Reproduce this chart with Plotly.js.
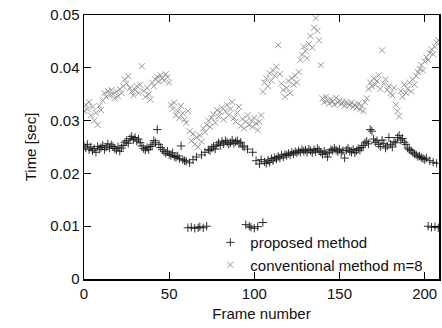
<!DOCTYPE html>
<html>
<head>
<meta charset="utf-8">
<script src="https://cdn.plot.ly/plotly-3.0.1.min.js"></script>
<style>html,body{margin:0;padding:0;background:#fff;}#chart{width:442px;height:328px;}</style>
</head>
<body>
<div id="chart"></div>
<script>
// Frame numbers 0..208
const frames = Array.from({length: 209}, (_, i) => i);

const proposed = [
0.0252,0.0248,0.0255,0.0245,0.0250,0.0243,0.0247,0.0240,0.0251,0.0246,
0.0249,0.0253,0.0245,0.0250,0.0256,0.0248,0.0254,0.0251,0.0247,0.0244,
0.0250,0.0242,0.0248,0.0253,0.0259,0.0262,0.0257,0.0266,0.0270,0.0264,
0.0268,0.0261,0.0265,0.0258,0.0252,0.0247,0.0244,0.0249,0.0245,0.0251,
0.0254,0.0262,0.0258,0.0283,0.0255,0.0249,0.0245,0.0241,0.0238,0.0242,
0.0236,0.0234,0.0239,0.0232,0.0230,0.0233,0.0228,0.0252,0.0226,0.0224,
0.0223,0.0097,0.0220,0.0098,0.0226,0.0096,0.0231,0.0097,0.0099,0.0235,
0.0097,0.0240,0.0100,0.0245,0.0243,0.0248,0.0251,0.0246,0.0254,0.0258,
0.0253,0.0261,0.0256,0.0262,0.0259,0.0255,0.0258,0.0263,0.0257,0.0260,
0.0262,0.0256,0.0259,0.0252,0.0250,0.0103,0.0246,0.0100,0.0098,0.0240,
0.0096,0.0224,0.0099,0.0218,0.0226,0.0107,0.0222,0.0219,0.0225,0.0221,
0.0228,0.0224,0.0230,0.0227,0.0232,0.0229,0.0235,0.0231,0.0236,0.0234,
0.0238,0.0235,0.0240,0.0237,0.0241,0.0239,0.0243,0.0240,0.0245,0.0242,
0.0244,0.0240,0.0246,0.0243,0.0239,0.0245,0.0241,0.0247,0.0244,0.0240,
0.0236,0.0242,0.0238,0.0231,0.0240,0.0245,0.0243,0.0248,0.0244,0.0241,
0.0246,0.0239,0.0243,0.0229,0.0244,0.0248,0.0242,0.0240,0.0245,0.0239,
0.0243,0.0247,0.0244,0.0249,0.0253,0.0258,0.0261,0.0256,0.0283,0.0280,
0.0265,0.0259,0.0262,0.0255,0.0251,0.0263,0.0257,0.0248,0.0252,0.0268,
0.0255,0.0250,0.0260,0.0258,0.0268,0.0272,0.0263,0.0266,0.0259,0.0255,
0.0248,0.0245,0.0243,0.0240,0.0237,0.0235,0.0232,0.0233,0.0230,0.0228,
0.0226,0.0229,0.0100,0.0224,0.0098,0.0221,0.0099,0.0219,0.0097
];

const conventional = [
0.0318,0.0330,0.0322,0.0335,0.0310,0.0326,0.0300,0.0315,0.0292,0.0328,
0.0320,0.0338,0.0352,0.0345,0.0356,0.0348,0.0358,0.0350,0.0342,0.0355,
0.0346,0.0360,0.0352,0.0365,0.0378,0.0370,0.0384,0.0362,0.0355,0.0348,
0.0358,0.0365,0.0352,0.0368,0.0403,0.0356,0.0345,0.0362,0.0350,0.0340,
0.0372,0.0365,0.0378,0.0383,0.0374,0.0386,0.0380,0.0376,0.0388,0.0382,
0.0372,0.0330,0.0322,0.0334,0.0310,0.0318,0.0305,0.0328,0.0314,0.0302,
0.0296,0.0318,0.0280,0.0262,0.0275,0.0255,0.0268,0.0250,0.0272,0.0260,
0.0285,0.0278,0.0292,0.0300,0.0288,0.0305,0.0312,0.0296,0.0320,0.0308,
0.0316,0.0325,0.0302,0.0318,0.0330,0.0310,0.0322,0.0335,0.0305,0.0298,
0.0315,0.0326,0.0290,0.0303,0.0285,0.0298,0.0310,0.0292,0.0300,0.0288,
0.0305,0.0295,0.0282,0.0298,0.0310,0.0355,0.0372,0.0380,0.0365,0.0390,
0.0376,0.0395,0.0385,0.0402,0.0443,0.0388,0.0370,0.0358,0.0345,0.0362,
0.0375,0.0352,0.0380,0.0368,0.0385,0.0372,0.0392,0.0415,0.0425,0.0440,
0.0432,0.0418,0.0445,0.0460,0.0438,0.0476,0.0494,0.0470,0.0452,0.0405,
0.0342,0.0335,0.0345,0.0338,0.0332,0.0340,0.0336,0.0330,0.0343,0.0334,
0.0338,0.0331,0.0336,0.0328,0.0335,0.0332,0.0329,0.0334,0.0326,0.0330,
0.0325,0.0332,0.0321,0.0328,0.0318,0.0335,0.0342,0.0360,0.0372,0.0365,
0.0380,0.0368,0.0375,0.0386,0.0360,0.0433,0.0370,0.0378,0.0358,0.0365,
0.0352,0.0348,0.0362,0.0330,0.0318,0.0308,0.0356,0.0345,0.0368,0.0352,
0.0360,0.0372,0.0355,0.0378,0.0368,0.0385,0.0392,0.0398,0.0405,0.0395,
0.0412,0.0420,0.0415,0.0428,0.0435,0.0426,0.0440,0.0448,0.0452
];

const seriesNames = ["proposed method", "conventional method m=8"];
const xTickVals = [0, 50, 100, 150, 200];
const yTickVals = [0, 0.01, 0.02, 0.03, 0.04, 0.05];
const yTickText = ["0", "0.01", "0.02", "0.03", "0.04", "0.05"];

const font = {family: "Liberation Sans, Arial, sans-serif", size: 15, color: "#111"};

const traces = [
  {
    x: frames, y: proposed, name: seriesNames[0], type: "scatter", mode: "markers",
    marker: {symbol: "cross-thin-open", size: 6, color: "#1a1a1a", line: {width: 0.9, color: "#1a1a1a"}}
  },
  {
    x: frames, y: conventional, name: seriesNames[1], type: "scatter", mode: "markers",
    marker: {symbol: "x-thin-open", size: 6, color: "#8c8c8c", line: {width: 0.9, color: "#8c8c8c"}}
  }
];

const axisCommon = {
  showgrid: false, zeroline: false, showline: true, linecolor: "#000", linewidth: 1.5,
  mirror: "ticks", ticks: "inside", ticklen: 7, tickwidth: 1.2, tickcolor: "#000",
  tickfont: font
};

const layout = {
  width: 442, height: 328,
  margin: {l: 84, r: 3, t: 15, b: 49},
  paper_bgcolor: "#fff", plot_bgcolor: "#fff",
  font: font,
  showlegend: true,
  legend: {
    x: 0.97, xanchor: "right", y: -0.008, yanchor: "bottom",
    bgcolor: "rgba(0,0,0,0)", borderwidth: 0, font: font,
    itemwidth: 30, tracegroupgap: 0
  },
  xaxis: Object.assign({}, axisCommon, {
    range: [0, 208.4], tickvals: xTickVals,
    title: {text: "Frame number", font: font, standoff: 8}
  }),
  yaxis: Object.assign({}, axisCommon, {
    range: [0, 0.05], tickvals: yTickVals, ticktext: yTickText,
    title: {text: "Time [sec]", font: font, standoff: 10}
  })
};

Plotly.newPlot("chart", traces, layout, {displayModeBar: false, staticPlot: true});
</script>
</body>
</html>
